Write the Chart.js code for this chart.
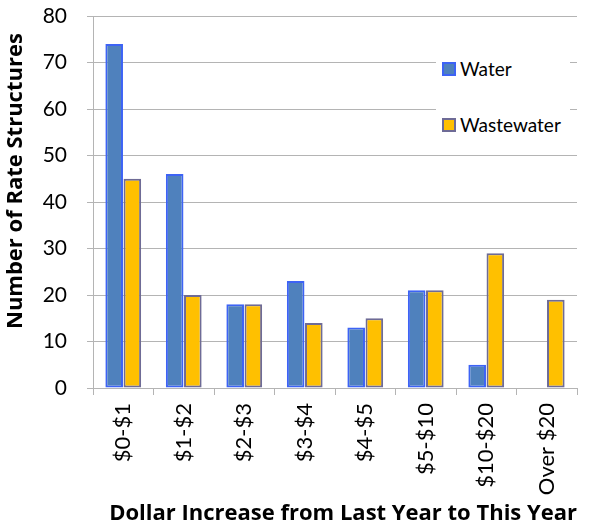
<!DOCTYPE html>
<html lang="en">
<head>
<meta charset="UTF-8">
<title>Dollar Increase in Rate Structures</title>
<style>
  body {
    margin: 0;
    padding: 0;
    background: #fff;
    font-family: 'Lato', sans-serif;
  }
  .chart-box {
    position: relative;
    width: 591px;
    height: 527px;
  }
  .legend {
    position: absolute;
    left: 436px;
    top: 48px;
    width: 134px;
    height: 102px;
    background: #fff;
  }
  .legend-item {
    position: absolute;
    left: 6px;
    font-size: 19px;
    line-height: 22px;
    color: #000;
    white-space: nowrap;
  }
  .legend-item span {
    display: inline-block;
    width: 10px;
    height: 10px;
    border: 2px solid;
    margin-right: 4px;
    vertical-align: 0px;
  }
</style>
</head>
<body>
<div class="chart-box">
  <canvas id="rateChart" width="591" height="527"></canvas>
  <div class="legend" id="legend"></div>
</div>

<script src="https://cdn.jsdelivr.net/npm/chart.js"></script>
<script>
  const categories = ['$0-$1', '$1-$2', '$2-$3', '$3-$4', '$4-$5', '$5-$10', '$10-$20', 'Over $20'];
  const waterValues = [74, 46, 18, 23, 13, 21, 5, 0];
  const wastewaterValues = [45, 20, 18, 14, 15, 21, 29, 19];
  const yTicks = [0, 10, 20, 30, 40, 50, 60, 70, 80];

  const gridColor = '#b4b4b4';

  const rateChart = new Chart(document.getElementById('rateChart'), {
    type: 'bar',
    data: {
      labels: categories,
      datasets: [{
        label: 'Water',
        data: waterValues,
        backgroundColor: '#4f81bd',
        borderColor: '#3d63f5',
        borderWidth: 2,
        borderSkipped: false
      }, {
        label: 'Wastewater',
        data: wastewaterValues,
        backgroundColor: '#ffc000',
        borderColor: '#6e6b96',
        borderWidth: 2,
        borderSkipped: false
      }]
    },
    options: {
      responsive: false,
      animation: false,
      layout: {
        padding: { top: 16, right: 14, left: 0, bottom: 0 }
      },
      datasets: {
        bar: {
          categoryPercentage: 0.6,
          barPercentage: 0.97
        }
      },
      plugins: {
        legend: { display: false },
        tooltip: { enabled: false }
      },
      scales: {
        x: {
          afterFit: axis => {
            // room for rotated labels + title, as in the original
            axis.height = 139;
          },
          grid: {
            display: true,
            drawOnChartArea: false,
            color: gridColor,
            tickLength: 7,
            offset: true
          },
          border: { color: gridColor },
          ticks: {
            color: '#000',
            font: { family: 'Lato', size: 22 },
            minRotation: 90,
            maxRotation: 90,
            padding: 8
          },
          title: {
            display: true,
            align: 'end',
            text: 'Dollar Increase from Last Year to This Year',
            color: '#000',
            font: { family: 'Open Sans', size: 22, weight: 'bold' },
            padding: { top: 4, bottom: 0 }
          }
        },
        y: {
          min: 0,
          max: 80,
          afterBuildTicks: axis => {
            axis.ticks = yTicks.map(v => ({ value: v }));
          },
          afterFit: axis => {
            // keep the plot top where the 80 line sits in the original
            axis.paddingTop = 0;
            axis.width = 93;
          },
          grid: {
            color: gridColor,
            tickLength: 6
          },
          border: { color: gridColor },
          ticks: {
            color: '#000',
            font: { family: 'Lato', size: 21 },
            padding: 20
          },
          title: {
            display: true,
            align: 'end',
            text: 'Number of Rate Structures   ',
            color: '#000',
            font: { family: 'Open Sans', size: 22, weight: 'bold' },
            padding: { top: 3, bottom: 0 }
          }
        }
      }
    }
  });

  // legend drawn over the chart, like the original
  const legendBox = document.getElementById('legend');
  rateChart.data.datasets.forEach((ds, i) => {
    const item = document.createElement('div');
    item.className = 'legend-item';
    item.style.top = (10 + i * 56) + 'px';
    item.innerHTML = '<span style="background:' + ds.backgroundColor + ';border-color:' + ds.borderColor + '"></span>' + ds.label;
    legendBox.appendChild(item);
  });
</script>
</body>
</html>
